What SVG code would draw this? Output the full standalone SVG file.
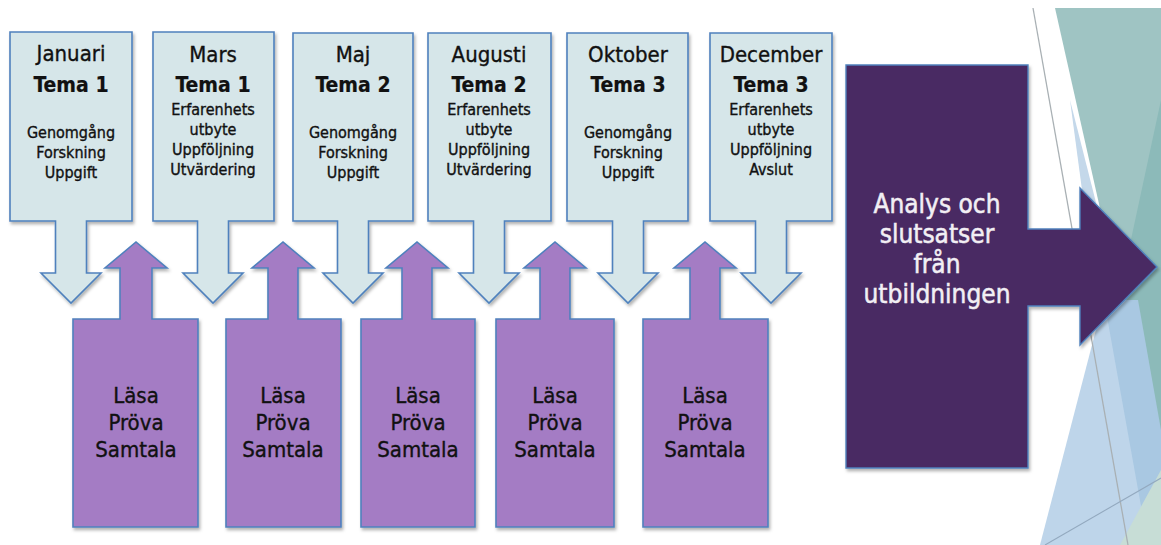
<svg xmlns="http://www.w3.org/2000/svg" width="1161" height="545" viewBox="0 0 1161 545">
<style>
.t{font-family:"DejaVu Sans Condensed","DejaVu Sans",sans-serif;font-stretch:condensed;text-anchor:middle;fill:#111;stroke:#111;stroke-width:0.35}
.m{font-size:22px}
.h{font-size:21px;font-weight:bold;stroke-width:0.2}
.b{font-size:16px}
.p{font-size:22px}
.w{font-size:26px;fill:#f2eff4;stroke:#f2eff4;stroke-width:0.5}
.blue{fill:#d6e6e9;stroke:#4f81bd;stroke-width:1.6;filter:url(#sh)}
.purp{fill:#a47cc4;stroke:#4f81bd;stroke-width:1.6;filter:url(#sh)}
.dark{fill:#4a2a63;stroke:#4f81bd;stroke-width:1.4;filter:url(#sh)}
</style>
<defs>
<filter id="sh" x="-10%" y="-10%" width="130%" height="130%">
<feDropShadow dx="1.5" dy="2.5" stdDeviation="1.8" flood-color="#000" flood-opacity="0.3"/>
</filter>
</defs>
<rect width="1161" height="545" fill="#fff"/>
<g id="background">
<polygon points="1055,8 1161,8 1161,480" fill="#9fc4c3"/>
<polygon points="1161,100 1118,300 1161,470" fill="#8cbab9"/>
<polygon points="1070,100 1108,250 1090,250" fill="#c4d8ea"/>
<polygon points="1112,268 1161,545 1040,545" fill="#bed5ea"/>
<polygon points="1104,300 1138,300 1161,430 1161,545 1148,545" fill="#a9c8e2"/>
<polygon points="1161,470 1161,545 1120,545" fill="#c7ddd6"/>
<line x1="1033" y1="8" x2="1128" y2="545" stroke="#a9b0b4" stroke-width="1.3"/>
<line x1="1045" y1="545" x2="1161" y2="478" stroke="#93a9bf" stroke-width="1.1"/>
</g>
<g id="connectors"/>
<g id="jan">
<path class="blue" d="M10,32H132V221H86.5V273H101L71,303L41,273H55.5V221H10Z"/>
<text class="t m" x="71" y="61">Januari</text>
<text class="t h" x="71" y="92">Tema 1</text>
<text class="t b" x="71" y="138">Genomgång</text>
<text class="t b" x="71" y="158">Forskning</text>
<text class="t b" x="71" y="178">Uppgift</text>
</g>
<g id="mar">
<path class="blue" d="M153,32H274V221H228.5V273H243L213,303L183,273H197.5V221H153Z"/>
<text class="t m" x="213" y="62">Mars</text>
<text class="t h" x="213" y="92">Tema 1</text>
<text class="t b" x="213" y="115">Erfarenhets</text>
<text class="t b" x="213" y="135">utbyte</text>
<text class="t b" x="213" y="155">Uppföljning</text>
<text class="t b" x="213" y="175">Utvärdering</text>
</g>
<g id="maj">
<path class="blue" d="M293,33H413V221H368.5V273H383L353,303L323,273H337.5V221H293Z"/>
<text class="t m" x="353" y="62">Maj</text>
<text class="t h" x="353" y="92">Tema 2</text>
<text class="t b" x="353" y="138">Genomgång</text>
<text class="t b" x="353" y="158">Forskning</text>
<text class="t b" x="353" y="178">Uppgift</text>
</g>
<g id="aug">
<path class="blue" d="M428,33H551V221H504.5V273H519L489,303L459,273H473.5V221H428Z"/>
<text class="t m" x="489" y="62">Augusti</text>
<text class="t h" x="489" y="92">Tema 2</text>
<text class="t b" x="489" y="115">Erfarenhets</text>
<text class="t b" x="489" y="135">utbyte</text>
<text class="t b" x="489" y="155">Uppföljning</text>
<text class="t b" x="489" y="175">Utvärdering</text>
</g>
<g id="okt">
<path class="blue" d="M567,33H688V221H643.5V273H658L628,303L598,273H612.5V221H567Z"/>
<text class="t m" x="628" y="62">Oktober</text>
<text class="t h" x="628" y="92">Tema 3</text>
<text class="t b" x="628" y="138">Genomgång</text>
<text class="t b" x="628" y="158">Forskning</text>
<text class="t b" x="628" y="178">Uppgift</text>
</g>
<g id="dec">
<path class="blue" d="M710,33H832V221H786.5V273H801L771,303L741,273H755.5V221H710Z"/>
<text class="t m" x="771" y="62">December</text>
<text class="t h" x="771" y="92">Tema 3</text>
<text class="t b" x="771" y="115">Erfarenhets</text>
<text class="t b" x="771" y="135">utbyte</text>
<text class="t b" x="771" y="155">Uppföljning</text>
<text class="t b" x="771" y="175">Avslut</text>
</g>
<g id="p1">
<path class="purp" d="M73,319H120V268H105L136,242L167,268H152V319H198V527H73Z"/>
<text class="t p" x="136" y="403">Läsa</text>
<text class="t p" x="136" y="430">Pröva</text>
<text class="t p" x="136" y="457">Samtala</text>
</g>
<g id="p2">
<path class="purp" d="M226,319H268V268H252L283,242L314,268H298V319H341V527H226Z"/>
<text class="t p" x="283" y="403">Läsa</text>
<text class="t p" x="283" y="430">Pröva</text>
<text class="t p" x="283" y="457">Samtala</text>
</g>
<g id="p3">
<path class="purp" d="M361,319H402V268H386L417,242L448,268H432V319H475V527H361Z"/>
<text class="t p" x="418" y="403">Läsa</text>
<text class="t p" x="418" y="430">Pröva</text>
<text class="t p" x="418" y="457">Samtala</text>
</g>
<g id="p4">
<path class="purp" d="M496,319H540V268H524L555,242L586,268H570V319H614V527H496Z"/>
<text class="t p" x="555" y="403">Läsa</text>
<text class="t p" x="555" y="430">Pröva</text>
<text class="t p" x="555" y="457">Samtala</text>
</g>
<g id="p5">
<path class="purp" d="M643,319H690V268H674L705,242L736,268H720V319H768V527H643Z"/>
<text class="t p" x="705" y="403">Läsa</text>
<text class="t p" x="705" y="430">Pröva</text>
<text class="t p" x="705" y="457">Samtala</text>
</g>
<g id="analys">
<path class="dark" d="M846,65H1028V229H1080V188L1157,267L1080,345V306H1028V468H846Z"/>
<text class="t w" x="937" y="213">Analys och</text>
<text class="t w" x="937" y="243">slutsatser</text>
<text class="t w" x="937" y="273">från</text>
<text class="t w" x="937" y="303">utbildningen</text>
</g>
</svg>
